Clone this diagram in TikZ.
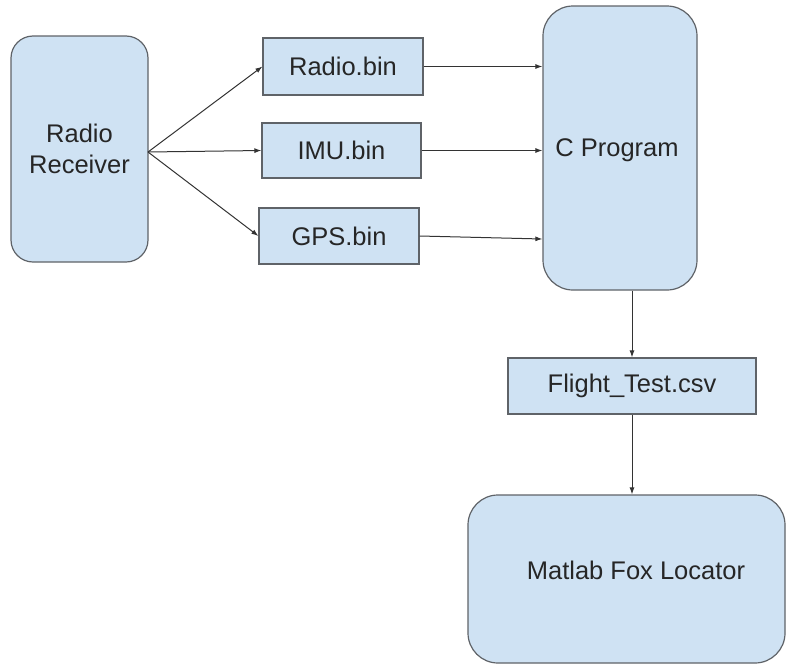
\documentclass[tikz,border=0pt]{standalone}
\usepackage{fontspec}
\setmainfont{Liberation Sans}
\usetikzlibrary{arrows.meta}
\definecolor{boxfill}{HTML}{CFE2F3}
\definecolor{boxline}{HTML}{5F6368}
\definecolor{arrowcol}{HTML}{333333}
\begin{document}
\begin{tikzpicture}[x=1pt,y=-1pt,
  base/.style={draw=boxline,fill=boxfill,line width=1.2pt,inner sep=0pt,font=\fontsize{25.5}{31}\selectfont,align=center,text=black!85},
  filebox/.style={base,rectangle},
  procbox/.style={base,rectangle,rounded corners=#1},
  conn/.style={draw=arrowcol,line width=1pt,-{Latex[length=7pt,width=5pt]}},
  lbl/.style={font=\fontsize{25.5}{31}\selectfont,align=center,text=black!85}]
\useasboundingbox (0,0) rectangle (789,664);
\node[procbox=22pt,minimum width=137pt,minimum height=226pt] (rr) at (79.5,149) {Radio\\Receiver};
\node[filebox,minimum width=160pt,minimum height=57pt] (radio) at (343,66.5) {Radio.bin};
\node[filebox,minimum width=159pt,minimum height=55pt] (imu) at (341.5,150.5) {IMU.bin};
\node[filebox,minimum width=160pt,minimum height=56pt] (gps) at (339,236) {GPS.bin};
\node[procbox=30pt,minimum width=154pt,minimum height=284pt] (cp) at (620,148) {};
\node[lbl] (cptxt) at (617,150) {C Program};
\node[filebox,minimum width=248pt,minimum height=56pt] (ft) at (632,386) {Flight\_Test.csv};
\node[procbox=30pt,minimum width=317pt,minimum height=168pt] (ml) at (626.5,579) {};
\node[lbl] (mltxt) at (636,570) {Matlab Fox Locator};
\coordinate (rrout) at (148,152);
\draw[conn] (rrout) -- (radio.west);
\draw[conn] (rrout) -- (imu.west);
\draw[conn] (rrout) -- (gps.west);
\draw[conn] (radio.east) -- (radio.east -| cp.west);
\draw[conn] (imu.east) -- (imu.east -| cp.west);
\draw[conn] (gps.east) -- ([yshift=-3pt]gps.east -| cp.west);
\draw[conn] ([xshift=12pt]cp.south) -- (ft.north);
\draw[conn] (ft.south) -- (ft.south |- ml.north);
\end{tikzpicture}
\end{document}
